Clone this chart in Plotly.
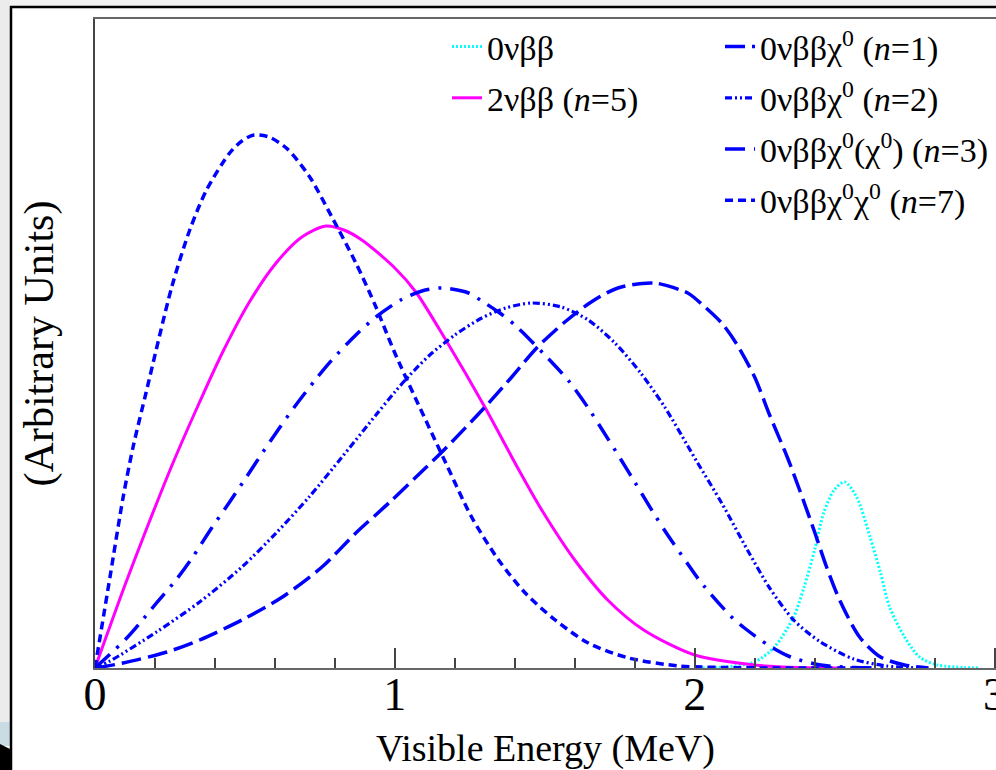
import plotly.graph_objects as go

# ---------------- data ----------------
e_0nbb = [2.0, 2.1, 2.2, 2.266, 2.33, 2.365, 2.40, 2.43, 2.465, 2.50, 2.54, 2.585, 2.62, 2.65, 2.70, 2.75, 2.81, 2.9, 2.95]
y_0nbb = [0, 0.01, 0.06, 0.21, 0.51, 0.81, 1.18, 1.55, 1.78, 1.86, 1.71, 1.31, 0.95, 0.61, 0.31, 0.11, 0.03, 0.005, 0]

e_2nbb = [0, 0.10, 0.173, 0.26, 0.349, 0.426, 0.515, 0.604, 0.69, 0.77, 0.83, 0.89, 1.0, 1.07, 1.17, 1.30, 1.41, 1.49, 1.60, 1.71, 1.83, 2.0, 2.2, 2.35, 2.5]
y_2nbb = [0, 0.83, 1.40, 2.05, 2.66, 3.16, 3.66, 4.05, 4.31, 4.42, 4.38, 4.28, 4.00, 3.76, 3.28, 2.61, 2.00, 1.58, 1.08, 0.68, 0.38, 0.13, 0.03, 0.005, 0]

e_n1 = [0, 0.094, 0.24, 0.349, 0.49, 0.625, 0.757, 0.87, 0.98, 1.102, 1.157, 1.301, 1.39, 1.473, 1.567, 1.655, 1.744, 1.866, 1.977, 2.0, 2.09, 2.14, 2.2, 2.25, 2.31, 2.35, 2.40, 2.44, 2.485, 2.55, 2.62, 2.70, 2.78]
y_n1 = [0, 0.05, 0.16, 0.28, 0.48, 0.71, 1.01, 1.35, 1.65, 2.00, 2.16, 2.61, 2.91, 3.20, 3.46, 3.66, 3.80, 3.85, 3.75, 3.70, 3.45, 3.24, 2.91, 2.53, 2.10, 1.78, 1.36, 1.01, 0.67, 0.31, 0.11, 0.03, 0]

e_n2 = [0, 0.05, 0.205, 0.349, 0.49, 0.604, 0.714, 0.824, 0.937, 1.0, 1.047, 1.113, 1.20, 1.29, 1.37, 1.455, 1.555, 1.645, 1.734, 1.82, 1.90, 1.977, 2.01, 2.09, 2.176, 2.25, 2.33, 2.42, 2.53, 2.64, 2.75]
y_n2 = [0, 0.07, 0.36, 0.66, 1.01, 1.35, 1.71, 2.11, 2.53, 2.76, 2.92, 3.12, 3.33, 3.50, 3.60, 3.65, 3.61, 3.48, 3.25, 2.95, 2.61, 2.22, 2.05, 1.65, 1.18, 0.80, 0.48, 0.26, 0.09, 0.02, 0]

e_n3 = [0, 0.106, 0.15, 0.205, 0.27, 0.326, 0.389, 0.449, 0.505, 0.558, 0.615, 0.67, 0.737, 0.79, 0.87, 0.937, 1.02, 1.09, 1.157, 1.246, 1.29, 1.35, 1.40, 1.445, 1.51, 1.58, 1.645, 1.69, 1.755, 1.80, 1.867, 1.91, 1.977, 2.02, 2.12, 2.166, 2.25, 2.32, 2.42, 2.53, 2.65]
y_n3 = [0, 0.30, 0.45, 0.65, 0.88, 1.11, 1.40, 1.66, 1.91, 2.15, 2.40, 2.63, 2.89, 3.08, 3.33, 3.51, 3.68, 3.77, 3.80, 3.75, 3.67, 3.55, 3.43, 3.30, 3.10, 2.87, 2.60, 2.39, 2.08, 1.86, 1.53, 1.33, 1.04, 0.86, 0.52, 0.40, 0.22, 0.11, 0.03, 0.005, 0]

e_n7 = [0, 0.05, 0.094, 0.127, 0.17, 0.256, 0.316, 0.372, 0.449, 0.49, 0.53, 0.58, 0.638, 0.714, 0.79, 0.87, 0.937, 1.0, 1.17, 1.256, 1.346, 1.435, 1.535, 1.645, 1.78, 1.95, 2.1, 2.3, 2.6]
y_n7 = [0, 0.91, 1.71, 2.21, 2.75, 3.81, 4.38, 4.78, 5.15, 5.27, 5.33, 5.31, 5.20, 4.92, 4.51, 4.05, 3.61, 3.15, 2.05, 1.51, 1.08, 0.75, 0.48, 0.25, 0.10, 0.02, 0.005, 0, 0]

x_tick_vals = [0, 1, 2, 3]
x_tick_text = ["0", "1", "2", "3"]

# ---------------- geometry ----------------
W, H = 996, 770
ML, MR, MT, MB = 95, 0, 19, 102
PW, PH = W - ML - MR, H - MT - MB


def px2x(px):
    return (px - ML) / PW


def px2y(py):
    return (H - MB - py) / PH


SERIF = "Liberation Serif, Times New Roman, serif"
BLUE = "#0000FF"

fig = go.Figure()


def add(x, y, name, color, width, dash, legend, group):
    fig.add_trace(go.Scatter(
        x=x, y=y, mode="lines", name=name,
        line=dict(color=color, width=width, dash=dash, shape="spline", smoothing=0.8),
        legend=legend, legendgroup=group, hoverinfo="skip",
    ))


add(e_0nbb, y_0nbb, "0νββ", "#00FFFF", 3, "2px,2px", "legend", "a1")
add(e_2nbb, y_2nbb, "2νββ (<i>n</i>=5)", "#FF00FF", 3, "solid", "legend", "a2")
add(e_n1, y_n1, "0νββχ<sup>0</sup> (<i>n</i>=1)", BLUE, 3.5, "20px,7px", "legend2", "g1")
add(e_n2, y_n2, "0νββχ<sup>0</sup> (<i>n</i>=2)", BLUE, 3.2, "7px,3px,2px,3px,2px,3px", "legend2", "g2")
add(e_n3, y_n3, "0νββχ<sup>0</sup>(χ<sup>0</sup>) (<i>n</i>=3)", BLUE, 3.5, "20px,9px,3px,9px", "legend2", "g3")
add(e_n7, y_n7, "0νββχ<sup>0</sup>χ<sup>0</sup> (<i>n</i>=7)", BLUE, 3.5, "8px,5px", "legend2", "g4")

legend_common = dict(
    font=dict(family=SERIF, size=34, color="black"),
    bgcolor="rgba(0,0,0,0)", borderwidth=0,
    yanchor="top", xanchor="left", traceorder="grouped", tracegroupgap=4,
)

shapes = [
    # slide background pieces outside the chart
    dict(type="rect", xref="paper", yref="paper", x0=px2x(0), x1=px2x(10), y0=px2y(0), y1=px2y(722),
         fillcolor="#ececec", line_width=0, layer="below"),
    dict(type="rect", xref="paper", yref="paper", x0=px2x(0), x1=px2x(10), y0=px2y(722), y1=px2y(746),
         fillcolor="#c9dbe3", line_width=0, layer="below"),
    dict(type="path", xref="paper", yref="paper",
         path=f"M{px2x(0)},{px2y(744)} L{px2x(10)},{px2y(749)} L{px2x(10)},{px2y(770)} L{px2x(0)},{px2y(770)} Z",
         fillcolor="black", line_width=0, layer="below"),
    dict(type="rect", xref="paper", yref="paper", x0=px2x(10), x1=px2x(996), y0=px2y(0), y1=px2y(6),
         fillcolor="#f3f3f3", line_width=0, layer="below"),
    dict(type="line", xref="paper", yref="paper", x0=px2x(10), x1=px2x(996), y0=px2y(7), y1=px2y(7),
         line=dict(color="black", width=2.5)),
    dict(type="line", xref="paper", yref="paper", x0=px2x(11), x1=px2x(11), y0=px2y(6), y1=px2y(770),
         line=dict(color="black", width=2.5)),
]

fig.update_layout(
    width=W, height=H,
    margin=dict(l=ML, r=MR, t=MT, b=MB, pad=0, autoexpand=False),
    paper_bgcolor="white", plot_bgcolor="white",
    showlegend=True,
    legend=dict(x=px2x(447), y=px2y(18), **legend_common),
    legend2=dict(x=px2x(720), y=px2y(18), **legend_common),
    shapes=shapes,
    xaxis=dict(
        range=[0, 3.005], showgrid=False, zeroline=False, automargin=False,
        tickvals=x_tick_vals, ticktext=x_tick_text,
        ticks="inside", ticklen=20, tickwidth=1.5, tickcolor="#444",
        minor=dict(dtick=0.2, ticks="inside", ticklen=10, tickwidth=1.5, tickcolor="#444", showgrid=False),
        tickfont=dict(family=SERIF, size=46, color="black"),
        ticklabelstandoff=-15, ticklabeloverflow="allow",
        showline=True, linecolor="#666", linewidth=2, mirror=True,
        title=dict(text="Visible Energy (MeV)", font=dict(family=SERIF, size=38, color="black"), standoff=17),
    ),
    yaxis=dict(
        range=[0, 6.49], showgrid=False, zeroline=False, automargin=False,
        showticklabels=False, ticks="",
        showline=True, linecolor="#444", linewidth=2, mirror=True,
        title=dict(text="(Arbitrary Units)", font=dict(family=SERIF, size=42, color="black"), standoff=26),
    ),
)

fig.write_html(
    "out.html",
    config={"displayModeBar": False},
    post_script="document.body.style.margin='0';document.body.style.padding='0';document.body.style.overflow='hidden';",
)
